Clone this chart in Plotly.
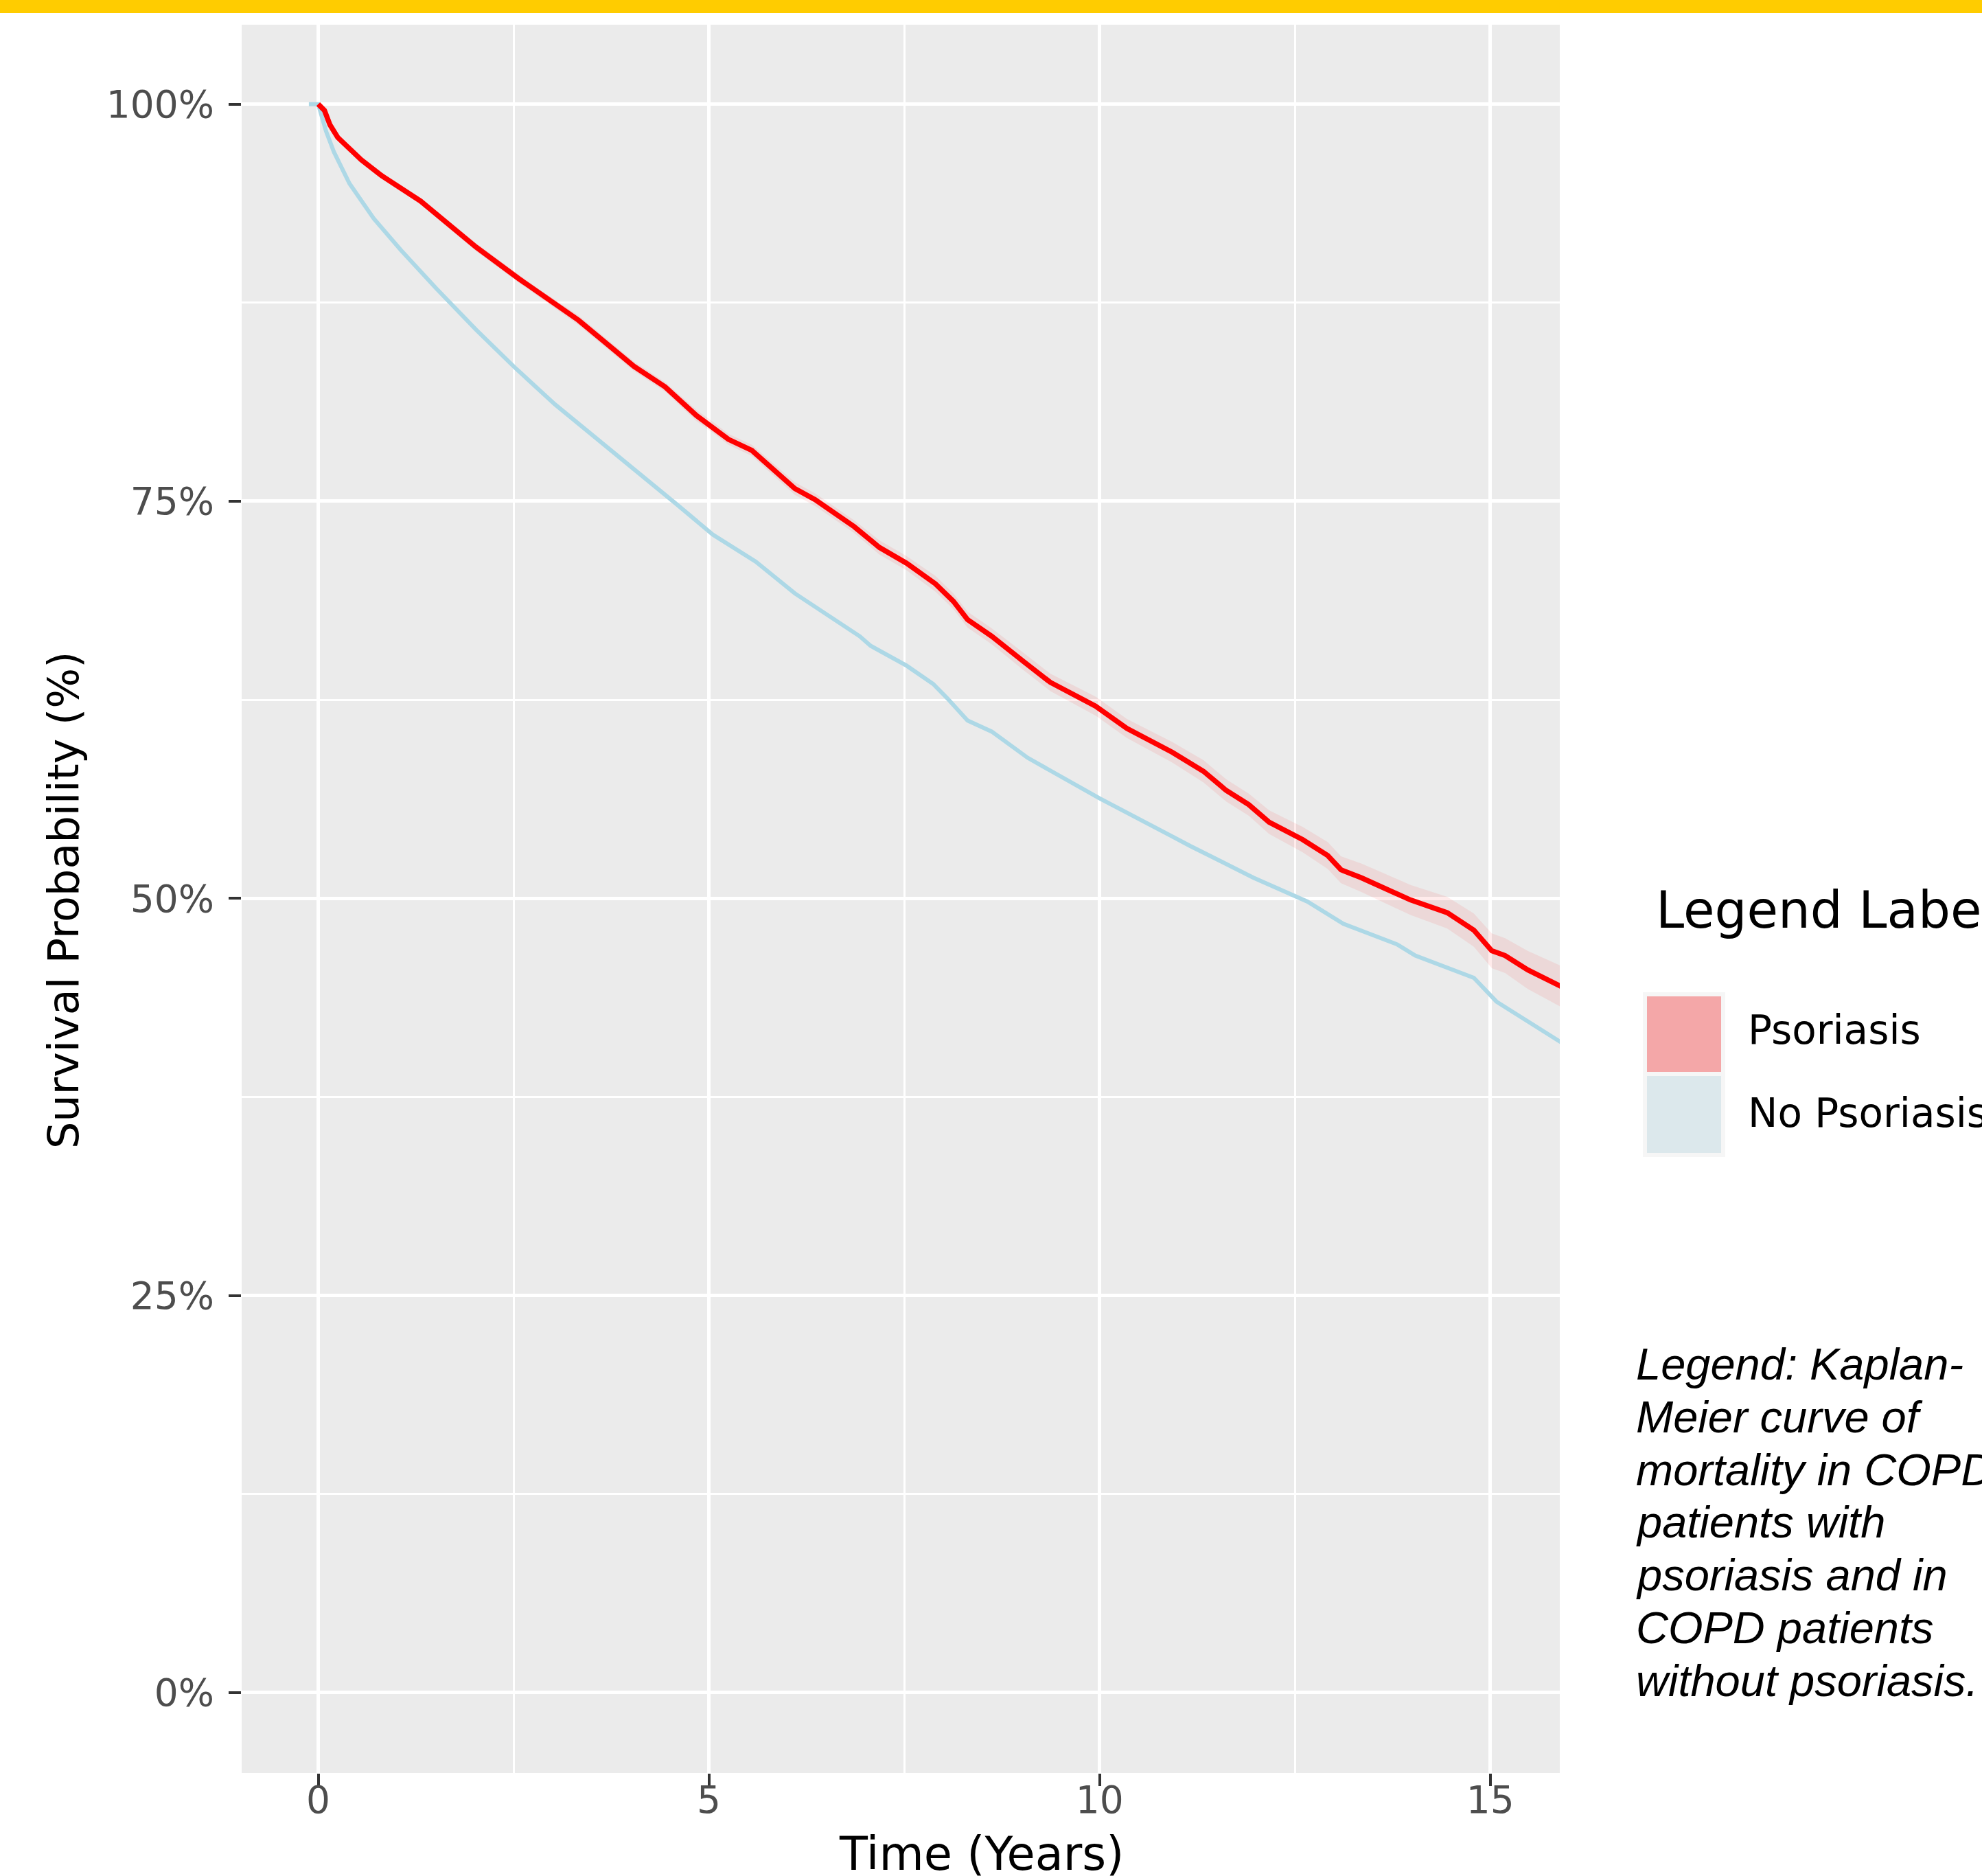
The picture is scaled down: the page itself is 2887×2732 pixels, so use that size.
import plotly.graph_objects as go

# ---------------- data ----------------
psor_t = [0, 0.08, 0.15, 0.25, 0.55, 0.81, 1.31, 2.02, 2.57, 2.83,
          3.33, 4.04, 4.44, 4.84, 5.04, 5.25, 5.55, 6.1, 6.36, 6.86,
          7.18, 7.53, 7.90, 8.13, 8.31, 8.62, 9.03, 9.37, 9.95, 10.35,
          10.93, 11.33, 11.62, 11.91, 12.17, 12.60, 12.92, 13.09, 13.35, 13.98,
          14.45, 14.79, 15.02, 15.19, 15.48, 15.95]
psor_s = [100, 99.6, 98.7, 97.9, 96.5, 95.5, 93.9, 91.0, 89.0, 88.1,
          86.4, 83.5, 82.2, 80.4, 79.7, 78.9, 78.2, 75.8, 75.1, 73.4,
          72.1, 71.1, 69.8, 68.7, 67.55, 66.5, 64.9, 63.6, 62.1, 60.7,
          59.2, 58.0, 56.8, 55.9, 54.8, 53.7, 52.7, 51.8, 51.3, 49.9,
          49.1, 48.0, 46.7, 46.4, 45.5, 44.35]
psor_ci_half = [0, 0.1, 0.1, 0.15, 0.15, 0.2, 0.2, 0.25, 0.25, 0.25,
                0.3, 0.3, 0.3, 0.35, 0.35, 0.35, 0.35, 0.4, 0.4, 0.4,
                0.45, 0.45, 0.5, 0.5, 0.5, 0.5, 0.55, 0.55, 0.6, 0.6,
                0.65, 0.7, 0.7, 0.7, 0.75, 0.8, 0.85, 0.85, 0.9, 0.95,
                1.0, 1.05, 1.1, 1.1, 1.2, 1.3]

nopsor_t = [-0.12, 0, 0.1, 0.2, 0.4, 0.71, 1.06, 1.51, 2.02, 2.52,
            3.03, 3.58, 4.09, 4.59, 5.05, 5.6, 6.1, 6.93, 7.07, 7.53,
            7.87, 8.05, 8.31, 8.62, 9.08, 10.0, 10.93, 11.16, 11.97, 12.66,
            13.12, 13.81, 14.04, 14.79, 15.08, 15.43, 15.95]
nopsor_s = [100, 100, 98.3, 97.0, 95.0, 92.8, 90.8, 88.4, 85.8, 83.4,
            81.1, 78.9, 76.8, 74.8, 72.9, 71.2, 69.2, 66.5, 65.9, 64.65,
            63.5, 62.6, 61.2, 60.5, 58.85, 56.3, 53.9, 53.3, 51.3, 49.8,
            48.4, 47.1, 46.4, 45.0, 43.5, 42.4, 40.8]

x_ticks = [0, 5, 10, 15]
y_ticks = [0, 25, 50, 75, 100]
y_tick_labels = ["0%", "25%", "50%", "75%", "100%"]

group_names = ["Psoriasis", "No Psoriasis"]
legend_title = "Legend Label"
x_title = "Time (Years)"
y_title = "Survival Probability (%)"
caption_lines = ["Legend: Kaplan-", "Meier curve of", "mortality in COPD",
                 "patients with", "psoriasis and in", "COPD patients",
                 "without psoriasis."]

# ---------------- geometry ----------------
W, H = 2887, 2732
L, R, T, B = 352, 2887 - 2272, 36, 2732 - 2582
PW, PH = W - L - R, H - T - B


def px(x):
    return (x - L) / PW


def py(y):
    return (H - B - y) / PH


RED = "#FF0000"
BLUE = "#ADD8E6"

fig = go.Figure()

ci_hi = [s + h for s, h in zip(psor_s, psor_ci_half)]
ci_lo = [s - h for s, h in zip(psor_s, psor_ci_half)]
fig.add_trace(go.Scatter(
    x=psor_t + psor_t[::-1], y=ci_hi + ci_lo[::-1],
    fill="toself", fillcolor="rgba(255,0,0,0.08)",
    line=dict(width=0), hoverinfo="skip", showlegend=False))

fig.add_trace(go.Scatter(x=nopsor_t, y=nopsor_s, mode="lines",
                         line=dict(color=BLUE, width=6), name=group_names[1]))
fig.add_trace(go.Scatter(x=psor_t, y=psor_s, mode="lines",
                         line=dict(color=RED, width=7.5), name=group_names[0]))

tick_font = dict(family="DejaVu Sans", size=55, color="#4D4D4D")

fig.update_xaxes(range=[-0.98, 15.89], tickmode="array", tickvals=x_ticks,
                 ticks="outside", ticklen=18, tickwidth=4, tickcolor="#333333",
                 ticklabelstandoff=-27,
                 tickfont=tick_font, showgrid=True, gridcolor="white", gridwidth=5,
                 zeroline=False, showline=False,
                 minor=dict(tick0=0, dtick=2.5, showgrid=True, gridcolor="white",
                            gridwidth=2.5, ticks=""))
fig.update_yaxes(range=[-5.06, 105.0], tickmode="array", tickvals=y_ticks,
                 ticktext=y_tick_labels,
                 ticks="outside", ticklen=18, tickwidth=4, tickcolor="#333333",
                 ticklabelstandoff=10,
                 tickfont=tick_font, showgrid=True, gridcolor="white", gridwidth=5,
                 zeroline=False, showline=False,
                 minor=dict(tick0=0, dtick=12.5, showgrid=True, gridcolor="white",
                            gridwidth=2.5, ticks=""))

shapes = []
# yellow top bar
shapes.append(dict(type="rect", xref="paper", yref="paper",
                   x0=px(0), x1=px(W), y0=py(19), y1=py(0),
                   fillcolor="#FFCC00", line=dict(width=0), layer="above"))
# legend keys
shapes.append(dict(type="rect", xref="paper", yref="paper",
                   x0=px(2393), x1=px(2513), y0=py(1685), y1=py(1445),
                   fillcolor="#F6F6F6", line=dict(width=0)))
shapes.append(dict(type="rect", xref="paper", yref="paper",
                   x0=px(2399), x1=px(2507), y0=py(1561), y1=py(1451),
                   fillcolor="#F4A7A8", line=dict(width=0)))
shapes.append(dict(type="rect", xref="paper", yref="paper",
                   x0=px(2399), x1=px(2507), y0=py(1679), y1=py(1567),
                   fillcolor="#DCE8EC", line=dict(width=0)))

ann = []
ann.append(dict(text=x_title, xref="paper", yref="paper", x=px(1429), y=py(2700),
                xanchor="center", yanchor="middle", showarrow=False,
                font=dict(family="DejaVu Sans", size=67, color="#000000")))
ann.append(dict(text=y_title, xref="paper", yref="paper", x=px(92), y=py(1311),
                xanchor="center", yanchor="middle", showarrow=False, textangle=-90,
                font=dict(family="DejaVu Sans", size=62, color="#000000")))
ann.append(dict(text=legend_title, xref="paper", yref="paper", x=px(2410), y=py(1325),
                xanchor="left", yanchor="middle", showarrow=False,
                font=dict(family="DejaVu Sans", size=74, color="#000000")))
ann.append(dict(text=group_names[0], xref="paper", yref="paper", x=px(2544), y=py(1500),
                xanchor="left", yanchor="middle", showarrow=False,
                font=dict(family="DejaVu Sans", size=58, color="#000000")))
ann.append(dict(text=group_names[1], xref="paper", yref="paper", x=px(2544), y=py(1621),
                xanchor="left", yanchor="middle", showarrow=False,
                font=dict(family="DejaVu Sans", size=58, color="#000000")))
for i, line in enumerate(caption_lines):
    ann.append(dict(text="<i>" + line + "</i>", xref="paper", yref="paper",
                    x=px(2381), y=py(1986.5 + 76.8 * i),
                    xanchor="left", yanchor="middle", showarrow=False,
                    font=dict(family="Liberation Sans", size=65, color="#000000")))

fig.update_layout(width=W, height=H, autosize=False,
                  margin=dict(l=L, r=R, t=T, b=B, pad=0),
                  paper_bgcolor="white", plot_bgcolor="#EBEBEB",
                  showlegend=False, shapes=shapes, annotations=ann)

fig.write_html("out.html", config={"displayModeBar": False},
               post_script="document.body.style.margin='0';document.body.style.overflow='hidden';")
